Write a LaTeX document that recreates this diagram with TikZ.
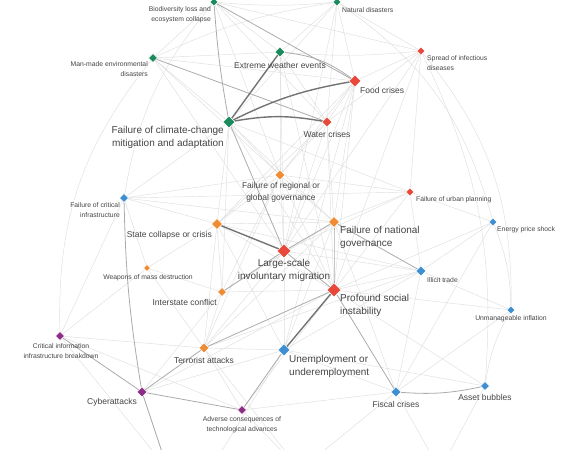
\documentclass[tikz,border=0pt]{standalone}
\usepackage{fontspec}
\setmainfont{Liberation Sans}
\usetikzlibrary{shapes.geometric,backgrounds}

\definecolor{envgreen}{HTML}{1B8A5C}
\definecolor{socred}{HTML}{E8473A}
\definecolor{geoorange}{HTML}{EF8B33}
\definecolor{ecoblue}{HTML}{3E8ED2}
\definecolor{techpurple}{HTML}{8E2D88}
\definecolor{txt}{HTML}{444444}

\begin{document}
\begin{tikzpicture}[x=1pt,y=-1pt,
  risk/.style={diamond,inner sep=0pt,minimum size=#1,draw=white,line width=0.5pt},
  env/.style={risk=#1,fill=envgreen},
  soc/.style={risk=#1,fill=socred},
  geo/.style={risk=#1,fill=geoorange},
  eco/.style={risk=#1,fill=ecoblue},
  tec/.style={risk=#1,fill=techpurple},
  lbs/.style={inner sep=0pt,text=txt,font=\fontsize{6.8}{10}\selectfont},
  lbm/.style={inner sep=0pt,text=txt,font=\fontsize{8.5}{12}\selectfont},
  lbl/.style={inner sep=0pt,text=txt,font=\fontsize{10}{13}\selectfont},
  faint/.style={draw=black!13,line width=0.45pt},
  mid/.style={draw=black!33,line width=0.8pt},
  bold/.style={draw=black!55,line width=1.4pt}]
  \useasboundingbox (0,0) rectangle (568,450);

  % risks
  \node[env=8] (bio) at (214,2) {};
  \node[env=8] (nat) at (337,2) {};
  \node[env=9] (manmade) at (153,58) {};
  \node[env=10] (extreme) at (280,52) {};
  \node[soc=8] (spread) at (421,51) {};
  \node[soc=12] (food) at (355,81) {};
  \node[env=12] (climate) at (229,122) {};
  \node[soc=10] (water) at (327,122) {};
  \node[geo=10] (regional) at (280,175) {};
  \node[eco=9] (critinfra) at (124,198) {};
  \node[soc=8] (urban) at (410,192) {};
  \node[eco=8] (energy) at (493,222) {};
  \node[geo=11] (state) at (217,224) {};
  \node[geo=11] (national) at (334,222) {};
  \node[soc=14] (migr) at (284,251) {};
  \node[geo=7] (wmd) at (147,268) {};
  \node[eco=10] (illicit) at (421,271) {};
  \node[geo=9] (inter) at (222,292) {};
  \node[soc=14] (social) at (334,290) {};
  \node[eco=8] (infl) at (511,310) {};
  \node[tec=9] (critinfo) at (60,336) {};
  \node[geo=10] (terror) at (204,348) {};
  \node[eco=12] (unemp) at (284,350) {};
  \node[tec=10] (cyber) at (142,392) {};
  \node[eco=10] (fiscal) at (396,392) {};
  \node[eco=9] (asset) at (485,386) {};
  \node[tec=9] (adverse) at (242,410) {};
  \coordinate (offa) at (168,470);
  \coordinate (offb) at (300,470);
  \coordinate (offc) at (440,470);
  \coordinate (offd) at (210,470);

  % labels
  \node[lbs,anchor=north east,align=right] (bio-t) at (211,6) {Biodiversity loss and\\ecosystem collapse};
  \node[lbs,anchor=west] (nat-t) at (342,10) {Natural disasters};
  \node[lbs,anchor=north east,align=right] (manmade-t) at (148,61) {Man-made environmental\\disasters};
  \node[lbm] (extreme-t) at (280,65) {Extreme weather events};
  \node[lbs,anchor=north west,align=left] (spread-t) at (427,55) {Spread of infectious\\diseases};
  \node[lbm,anchor=west] (food-t) at (360,90) {Food crises};
  \node[lbl,anchor=north east,align=right] (climate-t) at (224,126) {Failure of climate-change\\mitigation and adaptation};
  \node[lbm] (water-t) at (327,134) {Water crises};
  \node[lbm,anchor=north,align=center] (regional-t) at (281,182) {Failure of regional or\\global governance};
  \node[lbs,anchor=north east,align=right] (critinfra-t) at (120,202) {Failure of critical\\infrastructure};
  \node[lbs,anchor=west] (urban-t) at (416,200) {Failure of urban planning};
  \node[lbs,anchor=west] (energy-t) at (497,230) {Energy price shock};
  \node[lbm,anchor=east] (state-t) at (212,235) {State collapse or crisis};
  \node[lbl,anchor=north west,align=left] (national-t) at (340,226) {Failure of national\\governance};
  \node[lbl,anchor=north,align=center] (migr-t) at (284,259) {Large-scale\\involuntary migration};
  \node[lbs] (wmd-t) at (148,278) {Weapons of mass destruction};
  \node[lbs,anchor=west] (illicit-t) at (427,280) {Illicit trade};
  \node[lbm,anchor=east] (inter-t) at (217,302) {Interstate conflict};
  \node[lbl,anchor=north west,align=left] (social-t) at (340,294) {Profound social\\instability};
  \node[lbs] (infl-t) at (511,319) {Unmanageable inflation};
  \node[lbs,anchor=north,align=center] (critinfo-t) at (61,343) {Critical information\\infrastructure breakdown};
  \node[lbm] (terror-t) at (204,360) {Terrorist attacks};
  \node[lbl,anchor=north west,align=left] (unemp-t) at (289,355) {Unemployment or\\underemployment};
  \node[lbm] (cyber-t) at (112,402) {Cyberattacks};
  \node[lbm] (fiscal-t) at (396,404) {Fiscal crises};
  \node[lbm] (asset-t) at (485,397) {Asset bubbles};
  \node[lbs,anchor=north,align=center] (adverse-t) at (242,416) {Adverse consequences of\\technological advances};

  % interconnections
  \begin{scope}[on background layer]
    \foreach \a/\b/\t in {bio/nat/-5,bio/extreme/0,bio/manmade/0,bio/water/0,bio/spread/0,bio/regional/0,
      bio/critinfra/-15,nat/extreme/0,nat/food/0,nat/spread/0,nat/climate/0,nat/water/0,nat/manmade/-8,
      nat/migr/0,nat/energy/20,manmade/extreme/0,manmade/climate/0,manmade/food/0,manmade/regional/0,
      manmade/migr/0,manmade/critinfo/-20,extreme/water/0,extreme/spread/-5,extreme/migr/0,extreme/regional/0,
      extreme/social/0,spread/food/0,spread/migr/0,spread/social/0,spread/water/0,spread/urban/0,
      spread/infl/20,spread/asset/15,food/water/0,food/social/0,food/migr/0,food/state/0,food/national/0,
      food/regional/0,food/unemp/0,water/migr/0,water/social/0,water/state/0,water/national/0,
      water/regional/0,climate/regional/0,climate/state/0,climate/social/0,climate/national/0,
      climate/critinfra/0,climate/inter/0,climate/urban/0,regional/state/0,regional/national/0,
      regional/migr/0,regional/social/0,regional/inter/0,regional/urban/0,regional/critinfra/0,
      regional/terror/0,critinfra/urban/0,critinfra/state/0,critinfra/critinfo/0,critinfra/wmd/0,
      critinfra/national/0,urban/migr/0,urban/social/0,urban/energy/0,urban/national/0,urban/illicit/0,
      energy/illicit/0,energy/social/0,energy/fiscal/0,energy/infl/10,state/national/0,state/inter/0,
      state/terror/0,state/social/0,state/wmd/0,state/illicit/0,state/unemp/0,national/terror/0,
      national/unemp/0,national/fiscal/0,national/inter/0,migr/terror/0,migr/unemp/0,migr/illicit/0,
      wmd/inter/0,wmd/terror/0,wmd/critinfo/0,illicit/social/0,illicit/terror/0,illicit/unemp/0,
      illicit/fiscal/0,illicit/infl/0,inter/social/0,inter/terror/0,inter/cyber/0,social/asset/0,
      social/infl/0,social/adverse/0,infl/fiscal/0,infl/asset/-10,critinfo/terror/0,critinfo/adverse/0,
      terror/unemp/0,terror/adverse/0,unemp/fiscal/0,unemp/asset/0,fiscal/adverse/0,cyber/unemp/0,
      cyber/social/0,adverse/offb/0,fiscal/offb/0,asset/offc/0,unemp/offd/0,critinfo/offa/0,
      fiscal/offc/0,terror/offb/0}
      \draw[faint] (\a) to[bend left=\t] (\b);
    \foreach \a/\b/\t in {extreme/food/15,national/social/0,migr/national/0,migr/inter/0,
      national/illicit/0,terror/cyber/0,critinfo/cyber/0,cyber/adverse/0,adverse/unemp/0,
      fiscal/asset/-8,fiscal/social/0,bio/climate/-3,bio/food/0,manmade/water/0,climate/migr/0,
      critinfra/cyber/-4,terror/social/0,migr/social/0,cyber/offa/0}
      \draw[mid] (\a) to[bend left=\t] (\b);
    \foreach \a/\b/\t in {state/migr/0,social/unemp/0,climate/food/8,climate/water/10,climate/extreme/0}
      \draw[bold] (\a) to[bend left=\t] (\b);
  \end{scope}
\end{tikzpicture}
\end{document}
